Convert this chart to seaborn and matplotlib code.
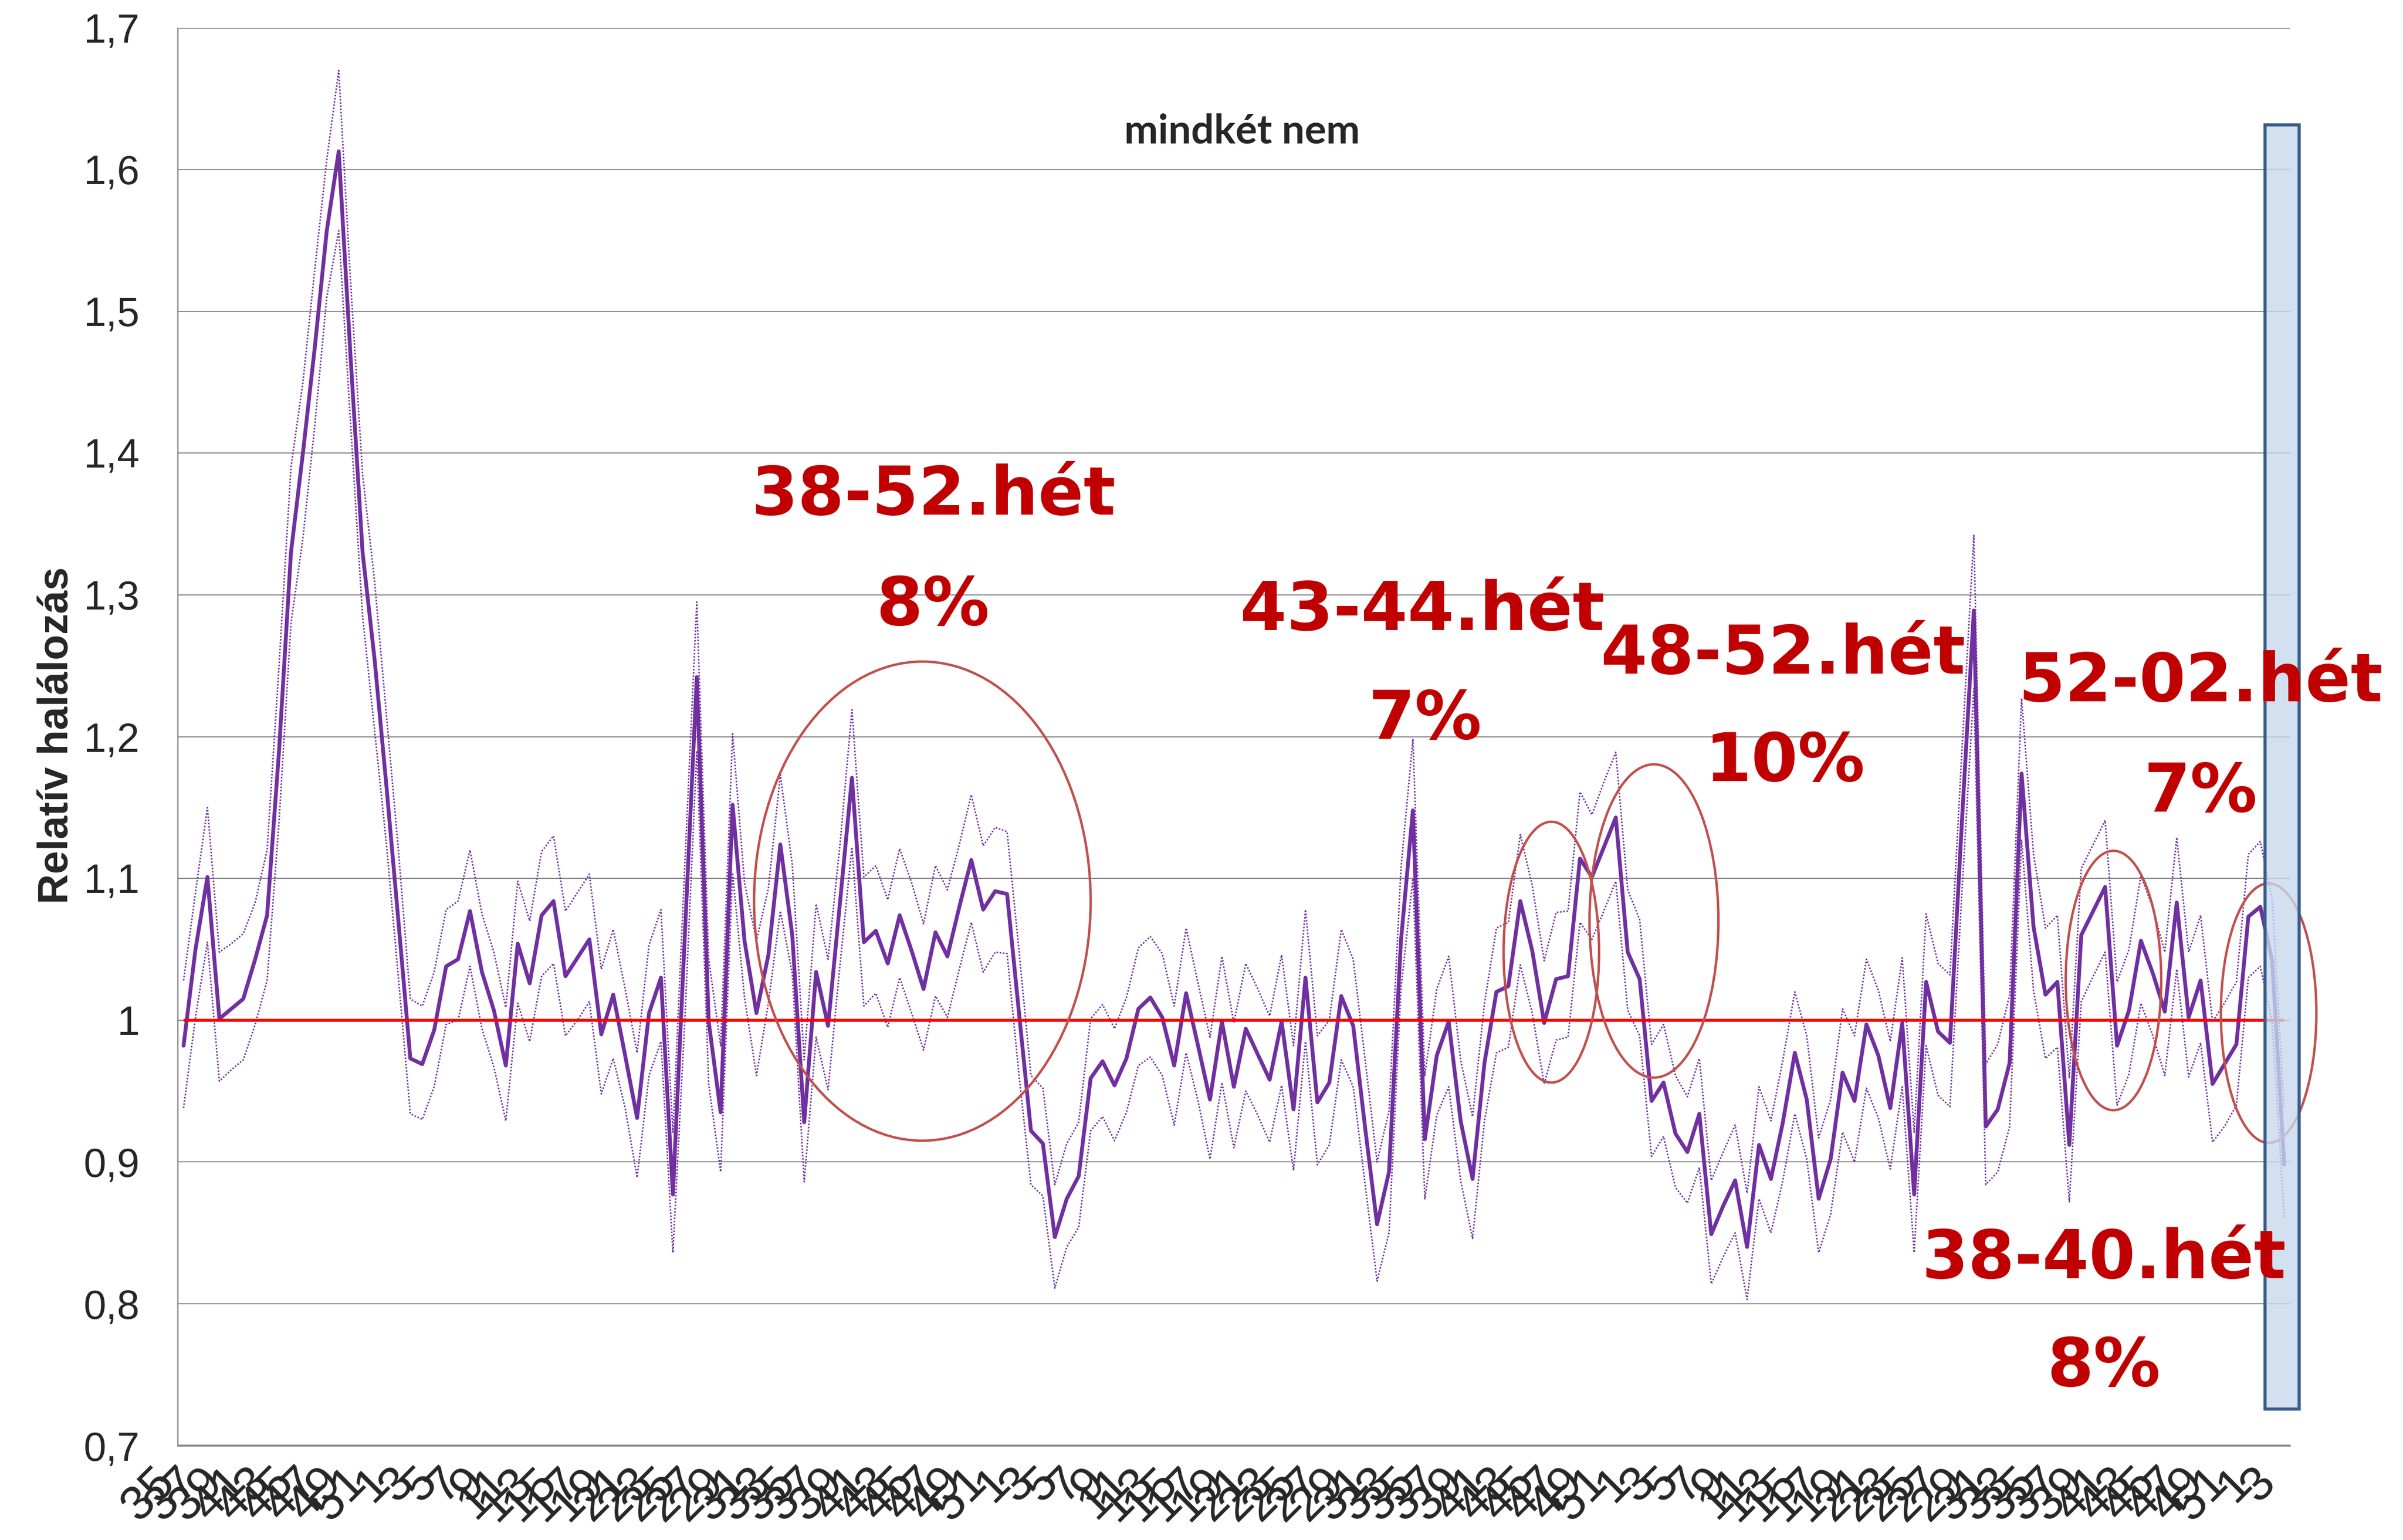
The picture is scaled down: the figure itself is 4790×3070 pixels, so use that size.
import matplotlib
matplotlib.use("Agg")
import numpy as np
import pandas as pd
import matplotlib.pyplot as plt
import seaborn as sns
from matplotlib.patches import Ellipse, Rectangle
from matplotlib.ticker import FixedLocator, FuncFormatter

# week numbers of the x categories (2014 wk35 ... 2018 wk3)
WEEKS = list(range(35, 53)) + list(range(1, 53)) * 3 + [1, 2, 3]

# relative mortality
MAIN = [
    0.982, 1.050, 1.101, 1.001, 1.008, 1.015, 1.043, 1.074, 1.190, 1.330,
    1.400, 1.475, 1.557, 1.613, 1.467, 1.330, 1.255, 1.165, 1.070, 0.973,
    0.969, 0.993, 1.038, 1.043, 1.077, 1.034, 1.007, 0.968, 1.054, 1.026,
    1.074, 1.084, 1.031, 1.044, 1.057, 0.990, 1.018, 0.975, 0.931, 1.005,
    1.030, 0.877, 1.060, 1.242, 0.999, 0.935, 1.152, 1.056, 1.005, 1.046,
    1.124, 1.060, 0.928, 1.034, 0.996, 1.083, 1.171, 1.055, 1.063, 1.040,
    1.074, 1.049, 1.022, 1.062, 1.045, 1.080, 1.113, 1.078, 1.091, 1.089,
    1.005, 0.922, 0.913, 0.847, 0.874, 0.890, 0.959, 0.971, 0.954, 0.973,
    1.008, 1.016, 1.002, 0.968, 1.019, 0.982, 0.944, 0.999, 0.953, 0.994,
    0.976, 0.958, 0.999, 0.937, 1.030, 0.942, 0.956, 1.017, 0.996, 0.924,
    0.856, 0.893, 1.056, 1.148, 0.916, 0.975, 0.999, 0.929, 0.888, 0.970,
    1.020, 1.024, 1.084, 1.049, 0.998, 1.029, 1.031, 1.114, 1.101, 1.122,
    1.143, 1.048, 1.029, 0.943, 0.956, 0.920, 0.907, 0.934, 0.849, 0.869,
    0.887, 0.840, 0.912, 0.888, 0.928, 0.977, 0.944, 0.874, 0.902, 0.963,
    0.943, 0.997, 0.975, 0.938, 0.998, 0.877, 1.027, 0.992, 0.984, 1.140,
    1.289, 0.925, 0.937, 0.970, 1.174, 1.066, 1.018, 1.027, 0.912, 1.060,
    1.077, 1.094, 0.982, 1.007, 1.056, 1.033, 1.006, 1.083, 1.002, 1.028,
    0.955, 0.969, 0.983, 1.073, 1.080, 1.042, 0.898,
]

UPPER = [
    1.028, 1.090, 1.150, 1.048, 1.054, 1.061, 1.083, 1.120, 1.250, 1.390,
    1.450, 1.530, 1.607, 1.670, 1.520, 1.385, 1.310, 1.215, 1.120, 1.015,
    1.010, 1.034, 1.078, 1.084, 1.120, 1.075, 1.048, 1.009, 1.098, 1.070,
    1.119, 1.130, 1.077, 1.090, 1.103, 1.036, 1.064, 1.022, 0.977, 1.053,
    1.078, 0.921, 1.110, 1.295, 1.043, 0.982, 1.202, 1.097, 1.056, 1.093,
    1.173, 1.110, 0.972, 1.082, 1.043, 1.124, 1.219, 1.101, 1.109, 1.085,
    1.121, 1.097, 1.068, 1.109, 1.092, 1.124, 1.159, 1.123, 1.136, 1.133,
    1.049, 0.961, 0.952, 0.884, 0.913, 0.928, 1.001, 1.011, 0.994, 1.016,
    1.051, 1.059, 1.047, 1.010, 1.065, 1.026, 0.988, 1.045, 0.998, 1.040,
    1.022, 1.003, 1.046, 0.982, 1.078, 0.989, 1.000, 1.064, 1.043, 0.972,
    0.900, 0.936, 1.107, 1.198, 0.961, 1.022, 1.045, 0.972, 0.932, 1.012,
    1.065, 1.069, 1.131, 1.095, 1.042, 1.076, 1.077, 1.161, 1.145, 1.168,
    1.189, 1.092, 1.071, 0.983, 0.997, 0.961, 0.946, 0.973, 0.887, 0.907,
    0.926, 0.878, 0.953, 0.929, 0.972, 1.020, 0.989, 0.917, 0.944, 1.008,
    0.989, 1.043, 1.021, 0.985, 1.044, 0.921, 1.075, 1.040, 1.032, 1.190,
    1.342, 0.969, 0.983, 1.018, 1.227, 1.117, 1.065, 1.074, 0.959, 1.107,
    1.124, 1.141, 1.027, 1.050, 1.102, 1.079, 1.048, 1.129, 1.048, 1.074,
    0.999, 1.012, 1.027, 1.117, 1.126, 1.085, 0.937,
]

LOWER = [
    0.938, 1.002, 1.055, 0.957, 0.965, 0.972, 0.997, 1.028, 1.140, 1.280,
    1.340, 1.420, 1.510, 1.557, 1.420, 1.285, 1.205, 1.124, 1.030, 0.934,
    0.930, 0.953, 0.997, 1.000, 1.038, 0.994, 0.967, 0.929, 1.012, 0.985,
    1.031, 1.040, 0.989, 1.000, 1.013, 0.948, 0.973, 0.938, 0.889, 0.961,
    0.985, 0.836, 1.000, 1.190, 0.955, 0.893, 1.104, 1.016, 0.961, 1.012,
    1.077, 1.033, 0.886, 0.988, 0.951, 1.039, 1.122, 1.010, 1.019, 0.995,
    1.030, 1.005, 0.979, 1.017, 1.002, 1.036, 1.069, 1.034, 1.048, 1.047,
    0.961, 0.884, 0.876, 0.811, 0.840, 0.854, 0.922, 0.932, 0.915, 0.935,
    0.968, 0.974, 0.961, 0.926, 0.977, 0.943, 0.902, 0.956, 0.910, 0.950,
    0.933, 0.914, 0.954, 0.894, 0.985, 0.898, 0.912, 0.972, 0.953, 0.884,
    0.816, 0.850, 1.022, 1.100, 0.874, 0.933, 0.953, 0.887, 0.846, 0.929,
    0.977, 0.981, 1.039, 1.005, 0.955, 0.986, 0.988, 1.069, 1.057, 1.077,
    1.098, 1.007, 0.989, 0.904, 0.918, 0.882, 0.871, 0.896, 0.814, 0.833,
    0.850, 0.803, 0.874, 0.850, 0.887, 0.934, 0.902, 0.836, 0.863, 0.921,
    0.900, 0.952, 0.931, 0.895, 0.953, 0.836, 0.982, 0.947, 0.939, 1.090,
    1.234, 0.884, 0.893, 0.925, 1.127, 1.021, 0.973, 0.981, 0.872, 1.013,
    1.031, 1.048, 0.940, 0.962, 1.012, 0.989, 0.961, 1.036, 0.960, 0.984,
    0.914, 0.925, 0.940, 1.030, 1.038, 0.998, 0.861,
]

REFERENCE = 1.0
Y_TICKS = [0.7, 0.8, 0.9, 1.0, 1.1, 1.2, 1.3, 1.4, 1.5, 1.6, 1.7]

PURPLE = "#7030A0"
GRID = "#878787"
ANNOT = "#C00000"
CIRCLE = "#C0504D"

df = pd.DataFrame({"pos": np.arange(len(MAIN)), "main": MAIN,
                   "upper": UPPER, "lower": LOWER})

sns.set_theme(style="white")
plt.rcParams["font.family"] = ["Liberation Sans", "DejaVu Sans"]

W, H = 4790, 3070
fig = plt.figure(figsize=(W / 100, H / 100), dpi=100)
ax = fig.add_axes([354 / W, 188.5 / H, (4565 - 354) / W, (3014.3 - 188.5) / H])

# series
for col in ["upper", "lower"]:
    sns.lineplot(data=df, x="pos", y=col, ax=ax, color=PURPLE, lw=2.2,
                 linestyle=(0, (1, 1.1)), zorder=3)
sns.lineplot(data=df, x="pos", y="main", ax=ax, color=PURPLE, lw=5.5,
             zorder=4)
ax.plot([df["pos"].iloc[0], df["pos"].iloc[-1]], [REFERENCE, REFERENCE],
        color="#FF0000", lw=4.2, zorder=5, solid_capstyle="butt")

# axes styling
n = len(MAIN)
ax.set_xlim(-0.5, n - 0.5)
ax.set_ylim(0.7, 1.7)
ax.set_xlabel("")
ax.set_ylabel("")
ax.yaxis.set_major_locator(FixedLocator(Y_TICKS))
ax.yaxis.set_major_formatter(FuncFormatter(
    lambda v, _: f"{v:.1f}".rstrip("0").rstrip(".").replace(".", ",")))
ax.yaxis.grid(True, color=GRID, lw=1.6)
ax.set_axisbelow(True)
for side in ["top", "right"]:
    ax.spines[side].set_visible(False)
for side in ["left", "bottom"]:
    ax.spines[side].set_color(GRID)
    ax.spines[side].set_linewidth(1.8)

ax.xaxis.set_major_locator(FixedLocator(list(range(n))))
ax.set_xticklabels([str(w) if i % 2 == 0 else "" for i, w in enumerate(WEEKS)],
                   rotation=45, ha="right")
ax.xaxis.set_minor_locator(FixedLocator(list(np.arange(-0.5, n, 1.0))))
ax.tick_params(axis="x", which="major", direction="in", length=13.5, width=1.5,
               color=GRID, pad=20, labelsize=70)
ax.tick_params(axis="x", which="minor", direction="out", length=18, width=1.5,
               color=GRID)
ax.tick_params(axis="y", direction="out", length=18, width=1.6, color=GRID,
               pad=36, labelsize=58)

fig.text(113 / W, 1 - 1466 / H, "Relatív halálozás", rotation=90,
         ha="center", va="center", fontsize=60, fontweight="bold")
fig.text(2476 / W, 1 - 286 / H, "mindkét nem", ha="center", va="baseline",
         fontsize=58, fontweight="bold", family=["Lato", "DejaVu Sans"])

# highlighted periods
ellipses = [
    (61.9, 1.084, 28.2, 0.338),
    (114.6, 1.048, 8.0, 0.184),
    (123.2, 1.070, 10.8, 0.221),
    (161.7, 1.028, 8.0, 0.183),
    (174.7, 1.005, 8.0, 0.183),
]
for cx, cy, ew, eh in ellipses:
    ax.add_patch(Ellipse((cx, cy), ew, eh, fill=False, edgecolor=CIRCLE,
                         lw=3.5, zorder=6, clip_on=False))

ax.add_patch(Rectangle((174.4, 0.7257), 2.85, 0.906,
                       facecolor=(0.78, 0.85, 0.93, 0.8), edgecolor="#385D8A",
                       lw=4.5, zorder=8, clip_on=False))

labels = [
    (62.8, 1.3565, "38-52.hét"), (62.8, 1.2786, "8%"),
    (103.8, 1.2754, "43-44.hét"), (104.0, 1.1986, "7%"),
    (134.0, 1.2443, "48-52.hét"), (134.2, 1.1686, "10%"),
    (169.0, 1.2250, "52-02.hét"), (169.0, 1.1470, "7%"),
    (160.9, 0.8180, "38-40.hét"), (160.9, 0.7420, "8%"),
]
for lx, ly, txt in labels:
    ax.text(lx, ly, txt, ha="center", va="baseline", color=ANNOT,
            fontsize=96, fontweight="bold", family="DejaVu Sans", zorder=9)

fig.savefig("out.png", dpi=100, facecolor="white")
